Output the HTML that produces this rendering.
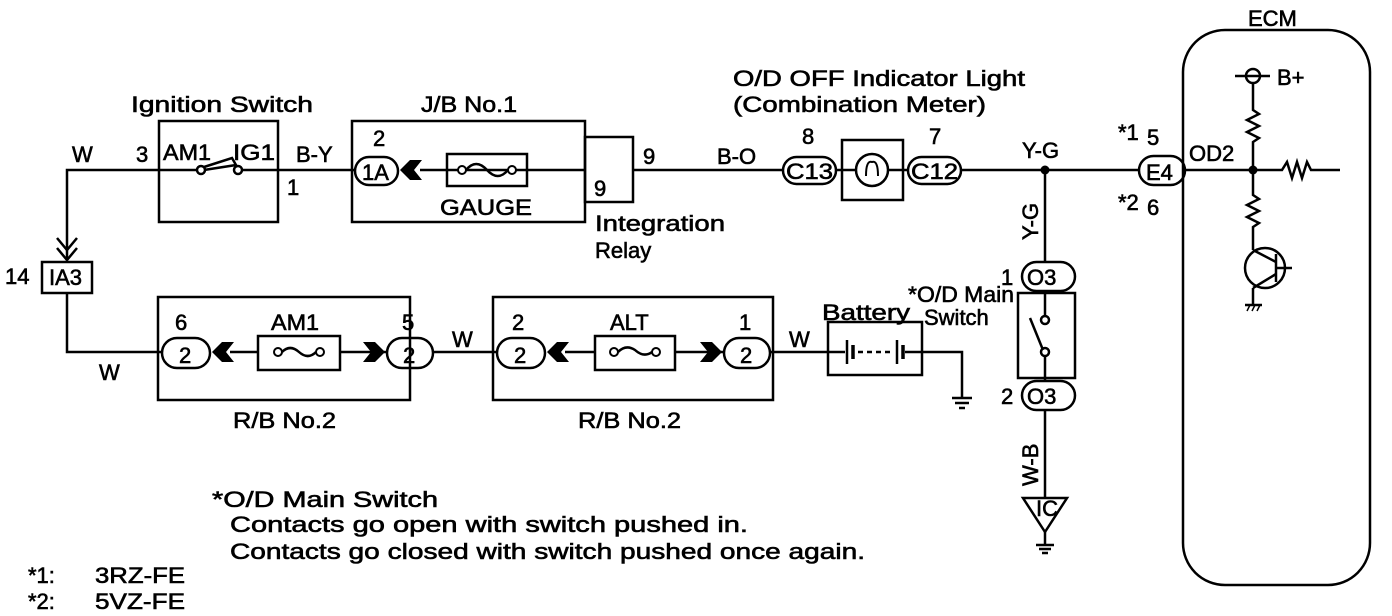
<!DOCTYPE html>
<html><head><meta charset="utf-8"><style>
html,body{margin:0;padding:0;background:#fff;}
svg{display:block}
text{font-family:"Liberation Sans",sans-serif;fill:#000;font-size:22px;stroke:#000;stroke-width:0.6}
</style></head><body>
<svg width="1392" height="616" viewBox="0 0 1392 616" xmlns="http://www.w3.org/2000/svg">
<g fill="none" stroke="#000" stroke-width="2.5">
<polyline points="67,260 67,170 160,170"/>
<line x1="278" y1="170" x2="355" y2="170"/>
<line x1="633" y1="170" x2="783" y2="170"/>
<line x1="960" y1="170" x2="1140" y2="170"/>
<polyline points="57,238 67,250 77,238"/>
<polyline points="57,248 67,260 77,248"/>
<rect x="159" y="121" width="119" height="101"/>
<line x1="160" y1="170" x2="197" y2="170"/>
<circle cx="201" cy="170" r="4"/>
<polyline points="204,167 232,158 236,165 204,170"/>
<circle cx="238" cy="170" r="4"/>
<line x1="242" y1="170" x2="278" y2="170"/>
<rect x="352" y="121" width="233" height="101"/>
<rect x="585" y="137" width="48" height="65"/>
<rect x="355" y="157" width="43" height="28" rx="14"/>
<line x1="420" y1="170" x2="585" y2="170"/>
<rect x="447" y="154" width="80" height="32"/>
<rect x="783" y="157" width="53" height="27" rx="13.5"/>
<rect x="842" y="140" width="61" height="60"/>
<line x1="836" y1="170" x2="908" y2="170"/>
<circle cx="872" cy="170" r="16" fill="#fff"/>
<path d="M866,176 Q866,160 872,162 Q878,160 878,176" stroke-width="2"/>
<rect x="908" y="157" width="53" height="27" rx="13.5"/>
<rect x="1139" y="156" width="46" height="29" rx="14.5"/>
<rect x="1183" y="30" width="187" height="555" rx="42"/>
<line x1="1185" y1="170" x2="1253" y2="170"/>
<line x1="1235" y1="76" x2="1270" y2="76"/>
<circle cx="1253" cy="76" r="7"/>
<polyline points="1253,83 1253,110 1259,114 1247,120 1259,126 1247,132 1259,138 1253,142 1253,195 1259,199 1247,205 1259,211 1247,217 1259,223 1253,227 1253,250"/>
<polyline points="1253,170 1282,170 1287,162 1292,178 1297,162 1302,178 1307,162 1311,170 1340,170"/>
<circle cx="1265" cy="268" r="20"/>
<line x1="1276" y1="254" x2="1276" y2="282"/>
<line x1="1276" y1="268" x2="1292" y2="268"/>
<line x1="1276" y1="262" x2="1253" y2="250"/>
<line x1="1276" y1="274" x2="1253" y2="288"/>
<line x1="1253" y1="288" x2="1253" y2="305"/>
<line x1="1245" y1="305" x2="1262" y2="305"/>
<line x1="1247" y1="311" x2="1250" y2="305" stroke-width="1.5"/><line x1="1252" y1="311" x2="1255" y2="305" stroke-width="1.5"/><line x1="1257" y1="311" x2="1260" y2="305" stroke-width="1.5"/>
<line x1="1045" y1="170" x2="1045" y2="262"/>
<rect x="1022" y="262" width="53" height="29" rx="14.5"/>
<rect x="1018" y="293" width="57" height="85"/>
<line x1="1045" y1="291" x2="1045" y2="316"/>
<circle cx="1045" cy="320" r="4"/>
<line x1="1043" y1="350" x2="1030" y2="318"/>
<circle cx="1045" cy="352" r="4"/>
<line x1="1045" y1="356" x2="1045" y2="380"/>
<rect x="1022" y="381" width="53" height="29" rx="14.5"/>
<line x1="1045" y1="410" x2="1045" y2="498"/>
<polygon points="1023,498 1067,498 1045,532"/>
<line x1="1045" y1="532" x2="1045" y2="545"/>
<line x1="1036" y1="545" x2="1054" y2="545"/><line x1="1039" y1="549" x2="1051" y2="549"/><line x1="1042" y1="553" x2="1048" y2="553"/>
<rect x="42" y="262" width="50" height="31"/>
<polyline points="67,293 67,352 162,352"/>
<rect x="158" y="297" width="252" height="103"/>
<rect x="162" y="338" width="48" height="30" rx="15"/>
<line x1="230" y1="352" x2="388" y2="352"/>
<rect x="258" y="336" width="82" height="34" fill="#fff"/>
<rect x="387" y="338" width="46" height="30" rx="15"/>
<line x1="433" y1="352" x2="497" y2="352"/>
<rect x="493" y="297" width="280" height="103"/>
<rect x="497" y="338" width="48" height="30" rx="15"/>
<line x1="565" y1="352" x2="724" y2="352"/>
<rect x="595" y="336" width="80" height="34" fill="#fff"/>
<rect x="724" y="338" width="46" height="30" rx="15"/>
<line x1="770" y1="352" x2="828" y2="352"/>
<rect x="828" y="322" width="94" height="53"/>
<line x1="828" y1="352" x2="845" y2="352"/>
<line x1="847" y1="340" x2="847" y2="364"/>
<line x1="853" y1="345" x2="853" y2="359" stroke-width="3.5"/>
<line x1="858" y1="352" x2="893" y2="352" stroke-dasharray="5,4"/>
<line x1="897" y1="340" x2="897" y2="364"/>
<line x1="903" y1="345" x2="903" y2="359" stroke-width="3.5"/>
<polyline points="905,352 962,352 962,398"/>
<line x1="952" y1="398" x2="972" y2="398"/><line x1="955" y1="403" x2="969" y2="403"/><line x1="959" y1="408" x2="965" y2="408"/>
</g>
<g stroke="#000" stroke-width="2" fill="#fff">
<circle cx="462" cy="170" r="4"/><circle cx="512" cy="170" r="4"/>
<circle cx="278" cy="352" r="4"/><circle cx="320" cy="352" r="4"/>
<circle cx="614" cy="352" r="4"/><circle cx="656" cy="352" r="4"/>
</g>
<g fill="none" stroke="#000" stroke-width="2.5">
<path d="M466,170 Q476,158 487,170 Q498,182 508,170"/>
<path d="M282,352 Q290,344 299,352 Q308,360 316,352"/>
<path d="M618,352 Q626,344 635,350 Q644,358 652,352"/>
</g>
<g fill="#000">
<polygon points="400,170 410,160 422,160 414,170 422,180 410,180"/>
<polygon points="212,352 222,342 234,342 226,352 234,362 222,362"/>
<polygon points="385,352 375,342 363,342 371,352 363,362 375,362"/>
<polygon points="547,352 557,342 569,342 561,352 569,362 557,362"/>
<polygon points="722,352 712,342 700,342 708,352 700,362 712,362"/>
<circle cx="1045" cy="170" r="4.5"/>
<circle cx="1253" cy="170" r="4.5"/>
</g>
<text x="131" y="112" textLength="182" lengthAdjust="spacingAndGlyphs">Ignition Switch</text>
<text x="421" y="112" textLength="96" lengthAdjust="spacingAndGlyphs">J/B No.1</text>
<text x="72" y="162">W</text>
<text x="136" y="162">3</text>
<text x="163" y="160" textLength="48" lengthAdjust="spacingAndGlyphs">AM1</text>
<text x="233" y="160" textLength="42" lengthAdjust="spacingAndGlyphs">IG1</text>
<text x="296" y="162">B-Y</text>
<text x="287" y="195">1</text>
<text x="373" y="146">2</text>
<text x="362" y="180" font-size="21">1A</text>
<text x="440" y="215" textLength="92" lengthAdjust="spacingAndGlyphs">GAUGE</text>
<text x="594" y="196">9</text>
<text x="643" y="164">9</text>
<text x="595" y="231" textLength="130" lengthAdjust="spacingAndGlyphs">Integration</text>
<text x="595" y="258">Relay</text>
<text x="717" y="164">B-O</text>
<text x="733" y="86" textLength="292" lengthAdjust="spacingAndGlyphs">O/D OFF Indicator Light</text>
<text x="733" y="112" textLength="253" lengthAdjust="spacingAndGlyphs">(Combination Meter)</text>
<text x="786" y="179" font-size="18" textLength="47" lengthAdjust="spacingAndGlyphs">C13</text>
<text x="911" y="179" font-size="18" textLength="47" lengthAdjust="spacingAndGlyphs">C12</text>
<text x="802" y="144">8</text>
<text x="929" y="144">7</text>
<text x="1022" y="158">Y-G</text>
<text x="1118" y="140" font-size="14">*1</text>
<text x="1147" y="145">5</text>
<text x="1118" y="210" font-size="14">*2</text>
<text x="1147" y="215">6</text>
<text x="1146" y="180">E4</text>
<text x="1189" y="161">OD2</text>
<text x="1248" y="26" font-size="23">ECM</text>
<text x="1277" y="85" font-size="23">B+</text>
<text transform="translate(1038,240) rotate(-90)">Y-G</text>
<text transform="translate(1038,486) rotate(-90)">W-B</text>
<text x="1027" y="285" font-size="23">O3</text>
<text x="1027" y="404" font-size="23">O3</text>
<text x="1001" y="285">1</text>
<text x="1001" y="404">2</text>
<text x="1036" y="516" font-size="12">IC</text>
<text x="5" y="284">14</text>
<text x="49" y="285" font-size="17">IA3</text>
<text x="99" y="380">W</text>
<text x="175" y="330">6</text>
<text x="271" y="330" textLength="48" lengthAdjust="spacingAndGlyphs">AM1</text>
<text x="402" y="330">5</text>
<text x="179" y="363">2</text>
<text x="403" y="363">2</text>
<text x="452" y="347">W</text>
<text x="512" y="330">2</text>
<text x="610" y="330">ALT</text>
<text x="739" y="330">1</text>
<text x="514" y="363">2</text>
<text x="740" y="363">2</text>
<text x="789" y="347">W</text>
<text x="822" y="320" textLength="88" lengthAdjust="spacingAndGlyphs">Battery</text>
<text x="233" y="428" textLength="103" lengthAdjust="spacingAndGlyphs">R/B No.2</text>
<text x="578" y="428" textLength="103" lengthAdjust="spacingAndGlyphs">R/B No.2</text>
<text x="908" y="302" font-size="16" stroke-width="0.4" textLength="106" lengthAdjust="spacingAndGlyphs">*O/D Main</text>
<text x="924" y="325" font-size="16" stroke-width="0.4">Switch</text>
<text x="212" y="507" font-size="21" textLength="226" lengthAdjust="spacingAndGlyphs">*O/D Main Switch</text>
<text x="230" y="532" font-size="21" textLength="518" lengthAdjust="spacingAndGlyphs">Contacts go open with switch pushed in.</text>
<text x="230" y="559" font-size="21" textLength="635" lengthAdjust="spacingAndGlyphs">Contacts go closed with switch pushed once again.</text>
<text x="28" y="583" font-size="21">*1:</text><text x="95" y="583" font-size="21" textLength="90" lengthAdjust="spacingAndGlyphs">3RZ-FE</text>
<text x="28" y="609" font-size="21">*2:</text><text x="95" y="609" font-size="21" textLength="90" lengthAdjust="spacingAndGlyphs">5VZ-FE</text>
</svg>
</body></html>
